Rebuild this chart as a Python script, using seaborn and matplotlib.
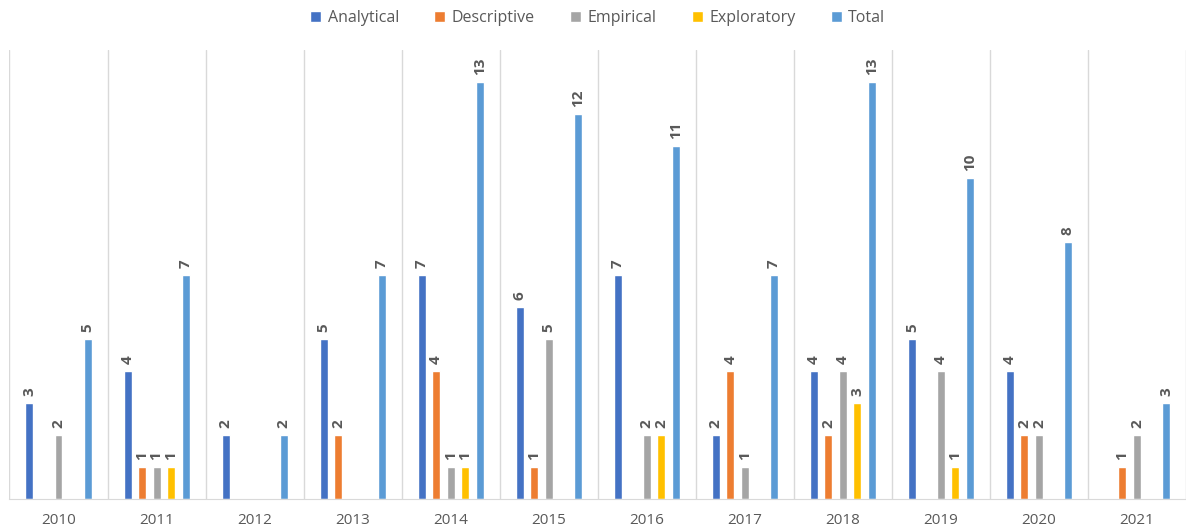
import matplotlib
matplotlib.use("Agg")
import matplotlib.pyplot as plt
import seaborn as sns
import pandas as pd

years = ["2010", "2011", "2012", "2013", "2014", "2015", "2016", "2017", "2018", "2019", "2020", "2021"]
analytical = [3, 4, 2, 5, 7, 6, 7, 2, 4, 5, 4, 0]
descriptive = [0, 1, 0, 2, 4, 1, 0, 4, 2, 0, 2, 1]
empirical = [2, 1, 0, 0, 1, 5, 2, 1, 4, 4, 2, 2]
exploratory = [0, 1, 0, 0, 1, 0, 2, 0, 3, 1, 0, 0]
total = [5, 7, 2, 7, 13, 12, 11, 7, 13, 10, 8, 3]

series = ["Analytical", "Descriptive", "Empirical", "Exploratory", "Total"]
colors = ["#4472C4", "#ED7D31", "#A5A5A5", "#FFC000", "#5B9BD5"]
text_gray = "#595959"

rows = []
for name, vals in zip(series, [analytical, descriptive, empirical, exploratory, total]):
    for y, v in zip(years, vals):
        rows.append({"year": y, "type": name, "count": v})
df = pd.DataFrame(rows)

sns.set_style("white")
plt.rcParams['font.family'] = ['Open Sans', 'DejaVu Sans']

fig = plt.figure(figsize=(11.86, 5.31), dpi=100)
ax = fig.add_axes([0.008, 0.06, 0.992, 0.846])

sns.barplot(data=df, x="year", y="count", hue="type", hue_order=series,
            palette=colors, saturation=1, width=0.74, gap=0.45, ax=ax, legend=True)

# value labels (skip zeros)
for cont in ax.containers:
    labels = [str(int(v)) if v > 0 else "" for v in cont.datavalues]
    ax.bar_label(cont, labels=labels, rotation=90, padding=5,
                 color=text_gray, fontsize=11, fontweight="bold")

ax.set_ylim(0, 14)
ax.set_xlim(-0.5, len(years) - 0.5)
ax.set_yticks([])
ax.set_xlabel("")
ax.set_ylabel("")
ax.set_xticks([i + 0.5 for i in range(-1, len(years))], minor=True)
ax.grid(True, which="minor", axis="x", color="#D9D9D9", linewidth=1)
ax.tick_params(axis="x", which="both", length=0, labelsize=11, colors=text_gray, pad=10)
for s in ["top", "right", "left"]:
    ax.spines[s].set_visible(False)
ax.spines["bottom"].set_color("#D9D9D9")

handles, labs = ax.get_legend_handles_labels()
ax.legend(handles, labs, loc="upper center", bbox_to_anchor=(0.5, 1.12), ncol=5,
          frameon=False, fontsize=11.5, handlelength=0.7, handleheight=0.7,
          columnspacing=2.2, handletextpad=0.4, labelcolor=text_gray)

fig.savefig("out.png", dpi=100)
